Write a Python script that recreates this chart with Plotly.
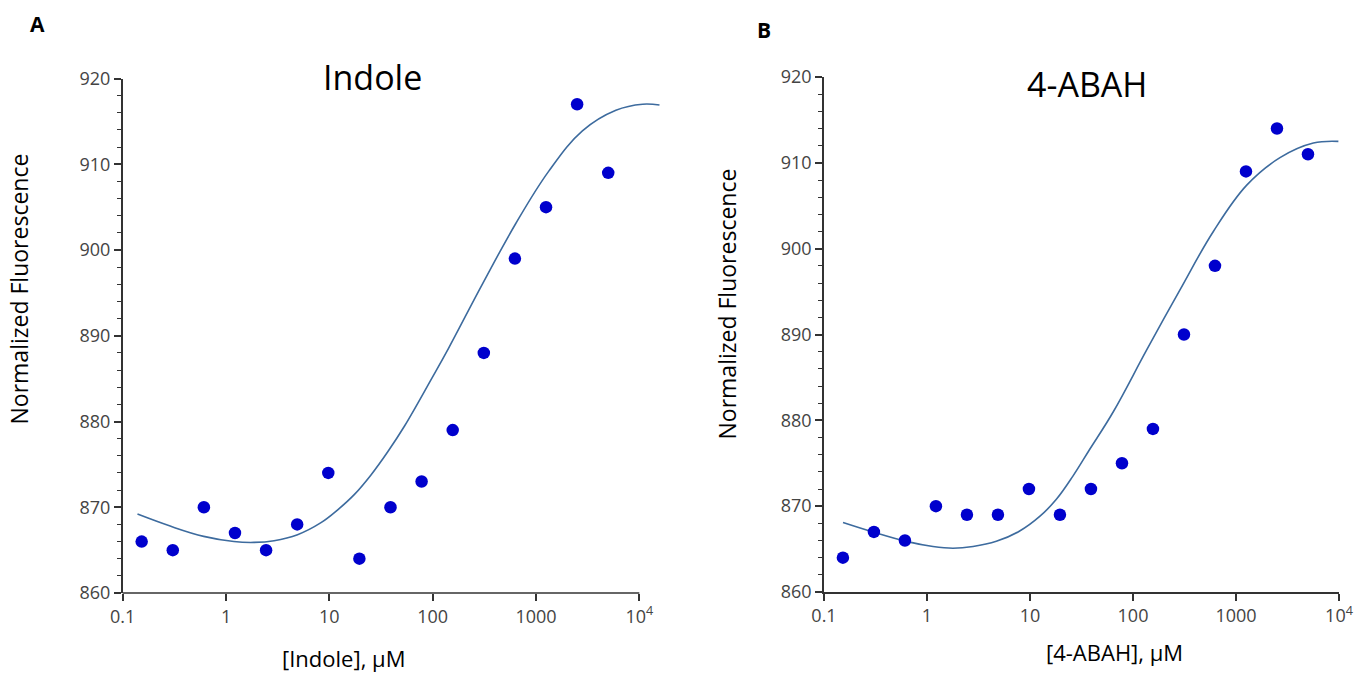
import plotly.graph_objects as go

# ---------------- data ----------------
conc_uM = [0.1526, 0.3052, 0.6104, 1.2207, 2.4414, 4.8828, 9.7656, 19.531,
           39.063, 78.125, 156.25, 312.5, 625, 1250, 2500, 5000]
indole_fluor = [866, 865, 870, 867, 865, 868, 874, 864, 870, 873, 879, 888,
                899, 905, 917, 909]
abah_fluor = [864, 867, 866, 870, 869, 869, 872, 869, 872, 875, 879, 890,
              898, 909, 914, 911]

# fitted curves
indole_fit_x = [0.139, 0.288, 0.608, 1.191, 1.866, 2.917, 4.92, 8.30, 12.05,
                17.5, 25.4, 36.9, 53.6, 97.7, 141.9, 299.2, 631, 1330, 2812,
                5929, 10765, 15668]
indole_fit_y = [869.2, 867.8, 866.6, 866.0, 865.9, 866.1, 866.8, 868.2, 869.7,
                871.5, 873.8, 876.5, 879.5, 885.0, 888.5, 895.9, 903.0, 909.2,
                913.9, 916.3, 917.0, 916.9]
abah_fit_x = [0.153, 0.299, 0.630, 1.143, 1.786, 2.80, 4.71, 7.94, 12.42,
              18.03, 26.1, 37.9, 64.4, 135.8, 285.8, 602.6, 1271, 2673, 5636,
              9863]
abah_fit_y = [868.1, 867.0, 865.9, 865.3, 865.1, 865.3, 865.9, 867.1, 868.8,
              870.8, 873.5, 876.6, 881.0, 888.2, 895.2, 902.0, 907.4, 910.6,
              912.3, 912.5]

x_tickvals = [0.1, 1, 10, 100, 1000, 10000]
x_ticktext = ["0.1", "1", "10", "100", "1000", "10<sup>4</sup>"]
y_tickvals = [860, 870, 880, 890, 900, 910, 920]

titles = ["Indole", "4-ABAH"]
x_titles = ["[Indole], µM", "[4-ABAH], µM"]
y_title = "Normalized Fluorescence"
panel_letters = ["A", "B"]

# ---------------- styling ----------------
W, H = 1355, 673
FONT = "Open Sans"
AX = "#333333"
DOT = "rgb(0,0,205)"
LINE = "#3D6B9E"

def fx(px):
    return px / W

def fy(py):
    return 1 - py / H

fig = go.Figure()

fig.add_trace(go.Scatter(x=indole_fit_x, y=indole_fit_y, mode="lines",
                         line=dict(color=LINE, width=1.6, shape="spline", smoothing=1.1),
                         xaxis="x", yaxis="y", showlegend=False, hoverinfo="skip"))
fig.add_trace(go.Scatter(x=conc_uM, y=indole_fluor, mode="markers",
                         marker=dict(color=DOT, size=12.5),
                         xaxis="x", yaxis="y", showlegend=False, cliponaxis=False))
fig.add_trace(go.Scatter(x=abah_fit_x, y=abah_fit_y, mode="lines",
                         line=dict(color=LINE, width=1.6, shape="spline", smoothing=1.1),
                         xaxis="x2", yaxis="y2", showlegend=False, hoverinfo="skip"))
fig.add_trace(go.Scatter(x=conc_uM, y=abah_fluor, mode="markers",
                         marker=dict(color=DOT, size=12.5),
                         xaxis="x2", yaxis="y2", showlegend=False, cliponaxis=False))

xrange_a = [-1, 4.2]
xrange_b = [-1, 4]

def xaxis(domain, rng, anchor, showline):
    return dict(domain=domain, type="log", range=rng, anchor=anchor,
                automargin=False,
                tickvals=x_tickvals, ticktext=x_ticktext,
                ticks="outside", ticklen=7, tickwidth=1.5, tickcolor=AX,
                showline=showline, linecolor=AX, linewidth=1.5,
                showgrid=False, zeroline=False,
                tickfont=dict(family=FONT, size=18, color="#444444"))

def yaxis(domain, anchor):
    return dict(domain=domain, range=[860, 920], anchor=anchor,
                automargin=False,
                tickvals=y_tickvals, ticks="outside", ticklen=7, tickwidth=1.5,
                tickcolor=AX, showline=True, linecolor=AX, linewidth=1.5,
                showgrid=False, zeroline=False,
                minor=dict(dtick=2, tick0=860, ticks="outside", ticklen=4,
                           tickwidth=1.2, tickcolor=AX, showgrid=False),
                tickfont=dict(family=FONT, size=18, color="#444444"))

fig.update_layout(
    width=W, height=H,
    margin=dict(l=0, r=0, t=0, b=0, autoexpand=False),
    paper_bgcolor="white", plot_bgcolor="white",
    xaxis=xaxis([fx(122.7), fx(660)], xrange_a, "y", False),
    yaxis=yaxis([fy(593), fy(78.5)], "x"),
    xaxis2=xaxis([fx(824), fx(1339)], xrange_b, "y2", True),
    yaxis2=yaxis([fy(592), fy(77)], "x2"),
)

# bottom axis line of panel A stops at 10^4
frac_end = (4 - xrange_a[0]) / (xrange_a[1] - xrange_a[0])
fig.add_shape(type="line", xref="x domain", yref="y domain",
              x0=0, x1=frac_end, y0=0, y1=0,
              line=dict(color=AX, width=1.5))

ann = []
for t, (cx, cy) in zip(titles, [(372.5, 76.5), (1087, 83.5)]):
    ann.append(dict(text=t, x=fx(cx), y=fy(cy), xref="paper", yref="paper",
                    showarrow=False, xanchor="center", yanchor="middle",
                    font=dict(family=FONT, size=34, color="black")))
for t, (cx, cy) in zip(x_titles, [(343.7, 658), (1114.5, 652)]):
    ann.append(dict(text=t, x=fx(cx), y=fy(cy), xref="paper", yref="paper",
                    showarrow=False, xanchor="center", yanchor="middle",
                    font=dict(family=FONT, size=22, color="black")))
for (cx, cy) in [(18.5, 289), (726.5, 304)]:
    ann.append(dict(text=y_title, x=fx(cx), y=fy(cy), xref="paper", yref="paper",
                    showarrow=False, xanchor="center", yanchor="middle", textangle=-90,
                    font=dict(family=FONT, size=23, color="black")))
for t, (cx, cy) in zip(panel_letters, [(37, 24.5), (764, 30.5)]):
    ann.append(dict(text="<b>" + t + "</b>", x=fx(cx), y=fy(cy), xref="paper", yref="paper",
                    showarrow=False, xanchor="center", yanchor="middle",
                    font=dict(family=FONT, size=21, color="black")))
fig.update_layout(annotations=ann)

fig.write_html("out.html", config={"displayModeBar": False},
               post_script="document.body.style.margin='0px';document.body.style.overflow='hidden';")
